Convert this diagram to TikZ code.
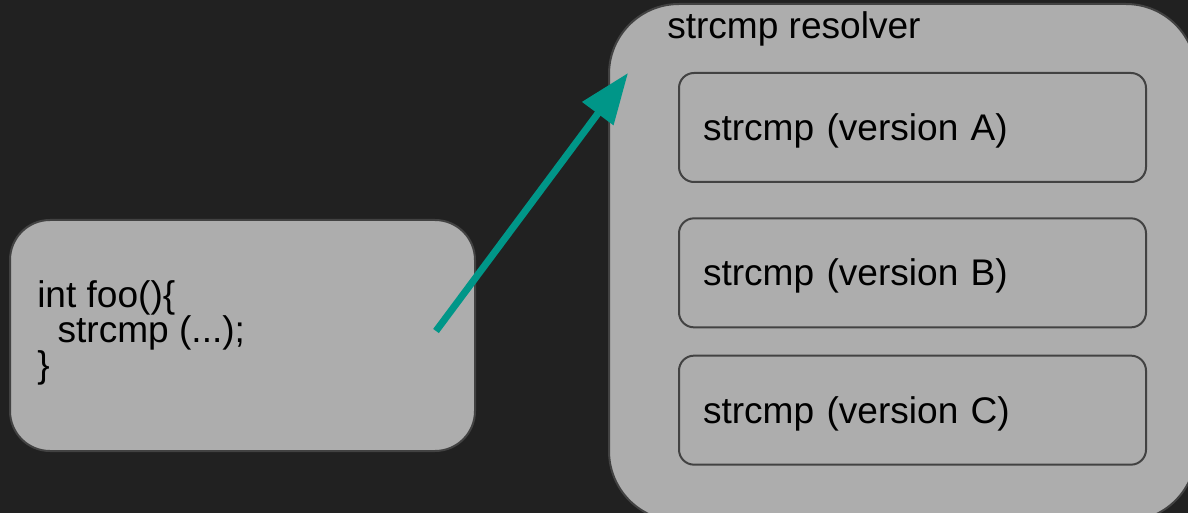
\documentclass[tikz,border=0pt]{standalone}
\usepackage{fontspec}
\setmainfont{Liberation Sans}
\usetikzlibrary{arrows.meta}
\definecolor{bgdark}{HTML}{212121}
\definecolor{boxgray}{HTML}{ADADAD}
\definecolor{edgegray}{HTML}{424242}
\definecolor{arrowteal}{HTML}{009688}

\begin{document}
\begin{tikzpicture}[x=0.75pt, y=-0.75pt, node distance=109pt,
	every node/.style={font=\fontsize{27.8}{26.25}\selectfont},
	panel/.style={draw=edgegray, line width=1.5pt, fill=boxgray, inner sep=0pt},
	variant/.style={panel, rounded corners=11.25pt, minimum height=81.75pt,
		text width=314.25pt, inner xsep=18pt, align=left,
		text height=19.5pt, text depth=0pt},
	callarrow/.style={draw=arrowteal, line width=5.25pt,
		-{Triangle[length=38pt, width=28pt]}}]
	% Background and page size
	\fill[bgdark] (0,0) rectangle (1188,513);
	\useasboundingbox (0,0) rectangle (1188,513);

	% Specification of boxes (position, etc.)
	\node (caller)		[panel, rounded corners=30pt, minimum width=348.75pt,
										minimum height=173.25pt] at (242.5,335.5) {};
	\node (code)			[anchor=west, align=left, inner sep=0pt]
										at ([xshift=21pt, yshift=2.25pt]caller.west)
										{int foo()\{\\\hspace*{0.55em}strcmp (...);\\\}};
	\node (resolver)	[panel, rounded corners=52.5pt, minimum width=440.25pt,
										minimum height=387.75pt] at (902.5,262.5) {};
	\node (title)			[anchor=base west, inner sep=0pt] at (667,38.5)
										{strcmp resolver};
	\node (verA)			[variant] at (912.5,127.5)	{strcmp (version A)};
	\node (verB)			[variant, below of=verA]		{strcmp (version B)};
	\node (verC)			[variant, below of=verB, yshift=6pt]
										{strcmp (version C)};

	% Call from foo() into the resolver
	\coordinate (callsite)	at (436,331);
	\coordinate (entry)			at (628,73);
	\draw[callarrow]	(callsite) -- (entry);
\end{tikzpicture}
\end{document}
